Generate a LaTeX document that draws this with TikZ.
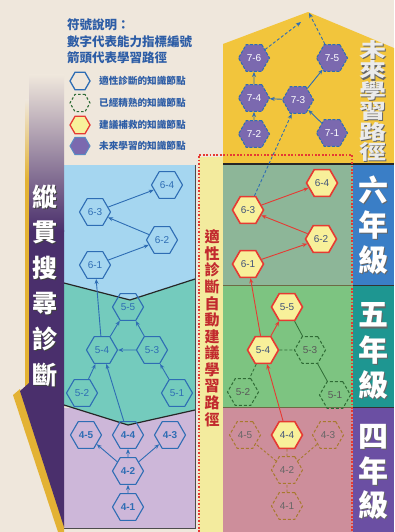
\documentclass[tikz,border=0pt]{standalone}
\usepackage{fontspec}
\setmainfont{Liberation Sans}
\newfontfamily\cjk{Noto Sans CJK TC}
\usepackage{graphicx}
\usetikzlibrary{shapes.geometric,arrows.meta}
\definecolor{bg}{HTML}{EFE7DC}
\definecolor{gold}{HTML}{F2C53C}
\definecolor{goldb}{HTML}{E3B234}
\definecolor{colblue}{HTML}{3A7EC6}
\definecolor{colteal}{HTML}{1E9691}
\definecolor{colpurp}{HTML}{6B4FA3}
\definecolor{gsix}{HTML}{8DB698}
\definecolor{gfive}{HTML}{7DC481}
\definecolor{gfour}{HTML}{CD8E9B}
\definecolor{ystrip}{HTML}{F3EB9E}
\definecolor{redA}{HTML}{E63A33}
\definecolor{redT}{HTML}{C22A2E}
\definecolor{yelA}{HTML}{F8F09A}
\definecolor{lblue}{HTML}{2E6DB4}
\definecolor{legblue}{HTML}{2D5DA6}
\definecolor{skyA}{HTML}{A5D6F0}
\definecolor{tealA}{HTML}{74CBBD}
\definecolor{lavA}{HTML}{CDB7D9}
\definecolor{bpurp}{HTML}{4A2F6C}
\definecolor{bmid}{HTML}{6A2E8C}
\definecolor{dgreen}{HTML}{2F6B35}
\definecolor{brownA}{HTML}{A8792E}
\definecolor{hexpurp}{HTML}{7B69AF}
\definecolor{slate}{HTML}{41537A}
\definecolor{bandline}{HTML}{6E6A45}
\begin{document}
\begin{tikzpicture}[x=1pt,y=-1pt,
  hex/.style={regular polygon,regular polygon sides=6,minimum size=31pt,inner sep=0pt,font=\fontsize{10}{10}\selectfont},
  lhex/.style={hex,draw=lblue,line width=1.1pt,text=lblue},
  lhexb/.style={lhex,font=\bfseries\fontsize{10}{10}\selectfont},
  rhex/.style={hex,draw=redA,fill=yelA,line width=1.6pt,text=slate},
  ghex/.style={hex,draw=dgreen,line width=1pt,dash pattern=on 3pt off 2pt,text=black!65},
  bhex/.style={hex,draw=brownA,line width=1pt,dash pattern=on 3pt off 2pt,text=black!60},
  phex/.style={hex,draw=lblue,fill=hexpurp,line width=1pt,dash pattern=on 3pt off 1.5pt,text=white},
  larr/.style={draw=lblue,line width=0.9pt,-{Stealth[length=5pt,width=4pt]}},
  rarr/.style={draw=redA,line width=0.9pt,-{Stealth[length=5pt,width=4pt]}},
  darr/.style={draw=lblue,line width=0.9pt,dash pattern=on 3pt off 2pt,-{Stealth[length=5pt,width=4pt]}},
  gline/.style={draw=dgreen,line width=0.8pt},
  gdash/.style={draw=dgreen,line width=0.8pt,dash pattern=on 3pt off 2pt},
  bdash/.style={draw=brownA,line width=0.9pt,dash pattern=on 2.5pt off 2pt},
  legtxt/.style={anchor=west,text=legblue,font=\cjk\bfseries\fontsize{9.6}{10}\selectfont,inner sep=0pt},
  legtitle/.style={anchor=west,text=legblue,font=\cjk\bfseries\fontsize{12.5}{13}\selectfont,inner sep=0pt},
  bigch/.style={font=\cjk\bfseries\fontsize{30}{30}\selectfont,inner sep=0pt},
  banch/.style={font=\cjk\bfseries\fontsize{25}{25}\selectfont,inner sep=0pt},
  futch/.style={font=\cjk\bfseries\fontsize{20}{20}\selectfont,inner sep=0pt},
  redch/.style={font=\cjk\bfseries\fontsize{15}{15}\selectfont,inner sep=0pt,text=redT}
]
\useasboundingbox (0,0) rectangle (394,532);
\fill[bg] (0,0) rectangle (394,532);

% ---------- right side backgrounds ----------
\fill[gold] (223,164) -- (223,44) -- (308,12) -- (394,48) -- (394,164) -- cycle;
\fill[gsix] (223,165) rectangle (353,285);
\fill[gfive] (223,286) rectangle (353,407);
\fill[gfour] (223,408) rectangle (353,532);
\fill[colblue] (353,165) rectangle (394,285);
\fill[colteal] (353,286) rectangle (394,407);
\fill[colpurp] (353,408) rectangle (394,532);
\draw[black!85,line width=1.6pt] (223,164) -- (394,164);
\draw[bandline,line width=1.6pt] (223,285.5) -- (353,285.5);
\draw[bandline,line width=1.6pt] (223,407.5) -- (353,407.5);
\draw[black!80,line width=1.6pt] (353,285.5) -- (394,285.5);
\draw[black!80,line width=1.6pt] (353,407.5) -- (394,407.5);
\fill[ystrip] (199,157) rectangle (223,532);
\draw[redA,line width=1.7pt,dash pattern=on 1.7pt off 1.7pt] (199,532) -- (199,155) -- (352,155) -- (352,532);

% ---------- left side backgrounds ----------
\fill[lavA] (63,408) rectangle (195,528);
\fill[tealA] (64,281) -- (195,279) -- (195,410) -- (128,425) -- (64,405) -- cycle;
\fill[skyA] (64,165) -- (64,283) -- (130,300) -- (195,279) -- (195,165) -- cycle;
\draw[black!85,line width=1.2pt] (64,283) -- (130,300) -- (195,279);
\draw[black!85,line width=1.2pt] (64,405) -- (128,425) -- (195,410);
\draw[black!70,line width=1pt] (195,165) -- (195,528) -- (63,528);

% ---------- banner ----------
\shade[top color=bg,bottom color=goldb] (25,100) rectangle (29,180);
\fill[goldb] (25,180) rectangle (29,392);
\fill[goldb] (13,395) -- (20,389) -- (64,522) -- (64,532) -- (58,532) -- cycle;
\fill[bpurp] (29,230) -- (64,230) -- (64,527) -- (20,391) -- (29,383) -- cycle;
\shade[top color=bg,middle color=bmid,bottom color=bpurp] (29,75) rectangle (64,231);

\foreach \c [count=\i from 0] in {縱,貫,搜,尋,診,斷} {
  \node[banch,text=black!75] (bs\i) at (46.3,198.3+35.5*\i) {\c};
  \node[banch,text=white] (bt\i) at (45,197+35.5*\i) {\c};
}

% ---------- vertical labels right ----------
\foreach \c [count=\i from 0] in {未,來,學,習,路,徑} {
  \node[futch,text=black!60] (fs\i) at (374.2,51.2+20.4*\i) {\scalebox{1.35}[1]{\c}};
  \node[futch,text=black!8] (ft\i) at (373,50+20.4*\i) {\scalebox{1.35}[1]{\c}};
}
\foreach \c [count=\i from 0] in {六,年,級} {
  \node[bigch,text=black!60] (s6\i) at (374.3,191.3+35*\i) {\c};
  \node[bigch,text=white] (t6\i) at (373,190+35*\i) {\c};
}
\foreach \c [count=\i from 0] in {五,年,級} {
  \node[bigch,text=black!60] (s5\i) at (374.3,316.3+35*\i) {\c};
  \node[bigch,text=white] (t5\i) at (373,315+35*\i) {\c};
}
\foreach \c [count=\i from 0] in {四,年,級} {
  \node[bigch,text=black!60] (s4\i) at (374.3,438.3+34*\i) {\c};
  \node[bigch,text=white] (t4\i) at (373,437+34*\i) {\c};
}
\foreach \c [count=\i from 0] in {適,性,診,斷,自,動,建,議,學,習,路,徑} {
  \node[redch] (rc\i) at (212,237+16.6*\i) {\c};
}

% ---------- legend ----------
\node[legtitle] (lt1) at (67,25) {符號說明：};
\node[legtitle] (lt2) at (67,42) {數字代表能力指標編號};
\node[legtitle] (lt3) at (67,58) {箭頭代表學習路徑};
\node[hex,minimum size=20pt,draw=lblue,line width=1.3pt] (lg1) at (80,81) {};
\node[hex,minimum size=20pt,draw=dgreen,line width=1.1pt,dash pattern=on 2.5pt off 2pt] (lg2) at (80,103) {};
\node[hex,minimum size=20pt,draw=redA,fill=yelA,line width=1.3pt] (lg3) at (80,125) {};
\node[hex,minimum size=20pt,draw=lblue!80,fill=hexpurp,line width=1pt] (lg4) at (80,146) {};
\node[legtxt] (ll1) at (99,81) {適性診斷的知識節點};
\node[legtxt] (ll2) at (99,103) {已經精熟的知識節點};
\node[legtxt] (ll3) at (99,125) {建議補救的知識節點};
\node[legtxt] (ll4) at (99,146) {未來學習的知識節點};

% ---------- left nodes ----------
\node[lhex] (L64) at (167,185) {6-4};
\node[lhex] (L63) at (95,212) {6-3};
\node[lhex] (L62) at (162,240) {6-2};
\node[lhex] (L61) at (95,265) {6-1};
\node[lhex] (L55) at (128,307) {5-5};
\node[lhex] (L54) at (102,350) {5-4};
\node[lhex] (L53) at (152,350) {5-3};
\node[lhex] (L52) at (82,393) {5-2};
\node[lhex] (L51) at (177,393) {5-1};
\node[lhexb] (L45) at (86,435) {4-5};
\node[lhexb] (L44) at (128,435) {4-4};
\node[lhexb] (L43) at (170,435) {4-3};
\node[lhexb] (L42) at (128,471) {4-2};
\node[lhexb] (L41) at (128,507) {4-1};

\draw[larr] (L61) -- (L62);
\draw[larr] (L62) -- (L63);
\draw[larr] (L63) -- (L64);
\draw[larr] (L54) -- (L61);
\draw[larr] (L44) -- (L54);
\draw[larr] (L52) -- (L54);
\draw[larr] (L51) -- (L53);
\draw[larr] (L53) -- (L54);
\draw[larr] (L54) -- (L55);
\draw[larr] (L53) -- (L55);
\draw[larr] (L41) -- (L42);
\draw[larr] (L42) -- (L45);
\draw[larr] (L42) -- (L44);
\draw[larr] (L42) -- (L43);

% ---------- right nodes ----------
\node[phex] (R76) at (254,58) {7-6};
\node[phex] (R75) at (332,58) {7-5};
\node[phex] (R74) at (254,98) {7-4};
\node[phex] (R73) at (298,100) {7-3};
\node[phex] (R72) at (254,134) {7-2};
\node[phex] (R71) at (332,133) {7-1};
\coordinate (apA) at (301,22);
\coordinate (apB) at (309,13);

\node[rhex] (R64) at (322,183) {6-4};
\node[rhex] (R63) at (248,210) {6-3};
\node[rhex] (R62) at (321,239) {6-2};
\node[rhex] (R61) at (248,264) {6-1};

\node[rhex] (R55) at (287,307) {5-5};
\node[rhex] (R54) at (263,350) {5-4};
\node[ghex] (R53) at (310,350) {5-3};
\node[ghex] (R52) at (243,392) {5-2};
\node[ghex] (R51) at (335,395) {5-1};

\node[bhex] (R45) at (245,435) {4-5};
\node[rhex] (R44) at (287,435) {4-4};
\node[bhex] (R43) at (328,435) {4-3};
\node[bhex] (R42) at (287,470) {4-2};
\node[bhex] (R41) at (287,506) {4-1};

\draw[larr] (R72) -- (R74);
\draw[larr] (R74) -- (R76);
\draw[larr] (R71) -- (R73);
\draw[larr] (R73) -- (R74);
\draw[larr] (R73) -- (R75);
\draw[darr] (R76) -- (apA);
\draw[darr] (R75) -- (apB);
\draw[darr] (R63) -- (R73);

\draw[rarr] (R61) -- (R62);
\draw[rarr] (R62) -- (R63);
\draw[rarr] (R63) -- (R64);
\draw[rarr] (R54) -- (R61);
\draw[rarr] (R44) -- (R54);
\draw[rarr] (R54) -- (R55);

\draw[gdash] (R54) -- (R53);
\draw[gline] (R53) -- (R55);
\draw[gline] (R53) -- (R51);
\draw[gdash] (R54) -- (R52);

\draw[bdash] (R41) -- (R42);
\draw[bdash] (R42) -- (R45);
\draw[bdash] (R42) -- (R44);
\draw[bdash] (R42) -- (R43);
\end{tikzpicture}
\end{document}
